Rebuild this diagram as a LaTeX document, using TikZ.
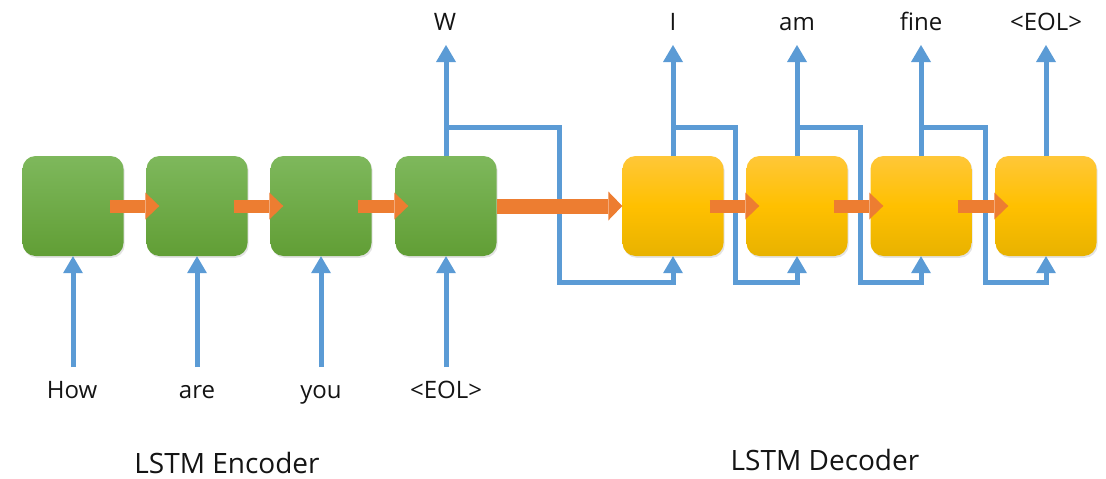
\documentclass[tikz,border=0pt]{standalone}
\usepackage{fontspec}
\setmainfont{Open Sans}
\usetikzlibrary{arrows.meta,shadows}
\definecolor{greenT}{RGB}{126,184,92}
\definecolor{greenB}{RGB}{97,158,53}
\definecolor{yellowT}{RGB}{255,199,56}
\definecolor{yellowM}{RGB}{255,192,0}
\definecolor{yellowB}{RGB}{232,178,0}
\definecolor{orangeC}{RGB}{237,125,49}
\definecolor{blueC}{RGB}{91,155,213}
\definecolor{textC}{RGB}{20,20,20}
\begin{document}
\begin{tikzpicture}[x=1pt,y=-1pt,
  cell/.style={rounded corners=13pt, minimum width=101pt, minimum height=100pt, inner sep=0pt,
    drop shadow={shadow xshift=1.2pt, shadow yshift=-1.8pt, opacity=0.22}},
  enc/.style={cell, top color=greenT, bottom color=greenB},
  dec/.style={cell, top color=yellowT, bottom color=yellowB, middle color=yellowM},
  oarrow/.style={draw=orangeC, line width=13pt, -{Triangle[width=27pt,length=14pt,line width=0pt,fill=orangeC]}},
  bigarrow/.style={draw=orangeC, line width=15pt, -{Triangle[width=29pt,length=14pt,line width=0pt,fill=orangeC]}},
  barrow/.style={draw=blueC, line width=5pt, -{Triangle[width=20pt,length=17pt,line width=0pt,fill=blueC]}},
  word/.style={text=textC, font=\fontsize{24}{28}\selectfont, inner sep=0pt, anchor=base},
  title/.style={text=textC, font=\fontsize{28}{32}\selectfont, inner sep=0pt, anchor=base}]
\useasboundingbox (0,0) rectangle (1106,479);

% cells
\node[enc] (e1) at (73,206) {};
\node[enc] (e2) at (197,206) {};
\node[enc] (e3) at (321,206) {};
\node[enc] (e4) at (446,206) {};
\node[dec] (d1) at (673,206) {};
\node[dec] (d2) at (797,206) {};
\node[dec] (d3) at (921,206) {};
\node[dec] (d4) at (1046,206) {};

% input words
\node[word] (w1) at (72,398) {How};
\node[word] (w2) at (197,398) {are};
\node[word] (w3) at (321,398) {you};
\node[word] (w4) at (446,398) {<EOL>};
\coordinate (i1) at (73,367);
\coordinate (i2) at (197,367);
\coordinate (i3) at (321,367);
\coordinate (i4) at (446,367);
\draw[barrow] (i1) -- (e1.south);
\draw[barrow] (i2) -- (e2.south);
\draw[barrow] (i3) -- (e3.south);
\draw[barrow] (i4) -- (e4.south);

% output words
\node[word] (t4) at (445,30) {W};
\node[word] (u1) at (673,30) {I};
\node[word] (u2) at (797,30) {am};
\node[word] (u3) at (921,30) {fine};
\node[word] (u4) at (1046,30) {<EOL>};
\coordinate (o4) at (446,45);
\coordinate (p1) at (673,45);
\coordinate (p2) at (797,45);
\coordinate (p3) at (921,45);
\coordinate (p4) at (1046,45);
\draw[barrow] (e4.north) -- (o4);
\draw[barrow] (d1.north) -- (p1);
\draw[barrow] (d2.north) -- (p2);
\draw[barrow] (d3.north) -- (p3);
\draw[barrow] (d4.north) -- (p4);

% feedback lines
\coordinate (j4) at (446,127);
\coordinate (k1) at (673,127);
\coordinate (k2) at (797,127);
\coordinate (k3) at (921,127);
\draw[barrow] (j4) -| (559,282) -| (d1.south);
\draw[barrow] (k1) -| (735,282) -| (d2.south);
\draw[barrow] (k2) -| (860,282) -| (d3.south);
\draw[barrow] (k3) -| (985,282) -| (d4.south);

% hidden state arrows
\draw[oarrow] ([xshift=-14pt]e1.east) -- ([xshift=13pt]e2.west);
\draw[oarrow] ([xshift=-14pt]e2.east) -- ([xshift=13pt]e3.west);
\draw[oarrow] ([xshift=-14pt]e3.east) -- ([xshift=13pt]e4.west);
\draw[bigarrow] (e4.east) -- (d1.west);
\draw[oarrow] ([xshift=-14pt]d1.east) -- ([xshift=13pt]d2.west);
\draw[oarrow] ([xshift=-14pt]d2.east) -- ([xshift=13pt]d3.west);
\draw[oarrow] ([xshift=-14pt]d3.east) -- ([xshift=13pt]d4.west);

% titles
\node[title] (enc) at (227,473) {LSTM Encoder};
\node[title] (dect) at (825,470) {LSTM Decoder};
\end{tikzpicture}
\end{document}
